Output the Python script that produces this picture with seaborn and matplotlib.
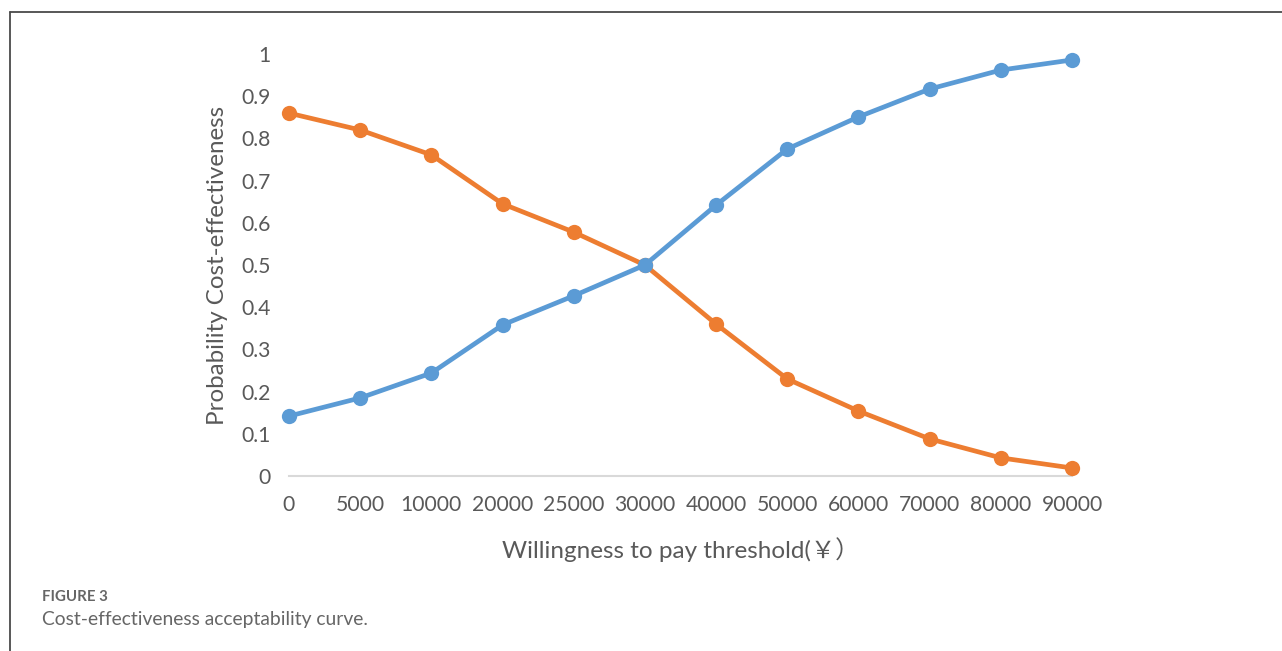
import seaborn as sns
import matplotlib
import pandas as pd
import numpy as np

matplotlib.use('Agg')
import matplotlib.pyplot as plt
from matplotlib.lines import Line2D

# willingness-to-pay thresholds (category axis) and probabilities
thresholds = ['0', '5000', '10000', '20000', '25000', '30000',
              '40000', '50000', '60000', '70000', '80000', '90000']
prob_blue = [0.142, 0.185, 0.244, 0.358, 0.427, 0.500,
             0.642, 0.775, 0.851, 0.917, 0.962, 0.986]
prob_orange = [0.860, 0.820, 0.761, 0.645, 0.578, 0.500,
               0.360, 0.230, 0.154, 0.088, 0.043, 0.019]
y_ticks = [0, 0.1, 0.2, 0.3, 0.4, 0.5, 0.6, 0.7, 0.8, 0.9, 1]
y_ticklabels = ['0', '0.1', '0.2', '0.3', '0.4', '0.5', '0.6', '0.7', '0.8', '0.9', '1']

data = pd.DataFrame({
    'pos': list(range(len(thresholds))) * 2,
    'prob': prob_blue + prob_orange,
    'series': ['blue'] * len(thresholds) + ['orange'] * len(thresholds),
})

sns.set_style('white')
plt.rcParams['font.family'] = ['Lato', 'Noto Sans CJK SC', 'DejaVu Sans']

fig = plt.figure(figsize=(12.82, 6.51), dpi=100)
ax = fig.add_axes([0.2254, 0.2688, 0.6108, 0.6482])

palette = {'blue': '#5B9BD5', 'orange': '#ED7D31'}
sns.lineplot(data=data, x='pos', y='prob', hue='series', palette=palette,
             hue_order=['orange', 'blue'],
             marker='o', markersize=11, markeredgewidth=0, linewidth=3.4,
             legend=False, ax=ax, clip_on=False)

ax.set_xlim(0, len(thresholds) - 1)
ax.set_ylim(0, 1)
ax.set_xticks(range(len(thresholds)))
ax.set_xticklabels(thresholds)
ax.set_yticks(y_ticks)
ax.set_yticklabels(y_ticklabels)
ax.tick_params(axis='both', length=0, labelsize=15.2, colors='#595959')
ax.tick_params(axis='x', pad=14)
ax.tick_params(axis='y', pad=13)

for side in ['top', 'right', 'left']:
    ax.spines[side].set_visible(False)
ax.spines['bottom'].set_color('#D9D9D9')
ax.spines['bottom'].set_linewidth(1.5)
ax.spines['bottom'].set_zorder(0)

ax.set_xlabel('Willingness to pay threshold(￥）', fontsize=17.5, color='#595959', labelpad=16)
ax.set_ylabel('Probability Cost-effectiveness', fontsize=17.4, color='#595959', labelpad=10)

# outer frame of the figure panel
fig.add_artist(Line2D([10 / 1282, 10 / 1282], [0, 1 - 12 / 651], transform=fig.transFigure,
                      color='#4a4a4a', linewidth=1.3))
fig.add_artist(Line2D([10 / 1282, 1], [1 - 12 / 651, 1 - 12 / 651], transform=fig.transFigure,
                      color='#4a4a4a', linewidth=1.3))

fig.text(42 / 1282, 1 - 597 / 651, 'FIGURE 3', fontsize=10.8, color='#666666',
         fontweight='bold', va='center', ha='left')
fig.text(42 / 1282, 1 - 620 / 651, 'Cost-effectiveness acceptability curve.', fontsize=13.9,
         color='#666666', va='center', ha='left')

fig.savefig('out.png', dpi=100, facecolor='white')
